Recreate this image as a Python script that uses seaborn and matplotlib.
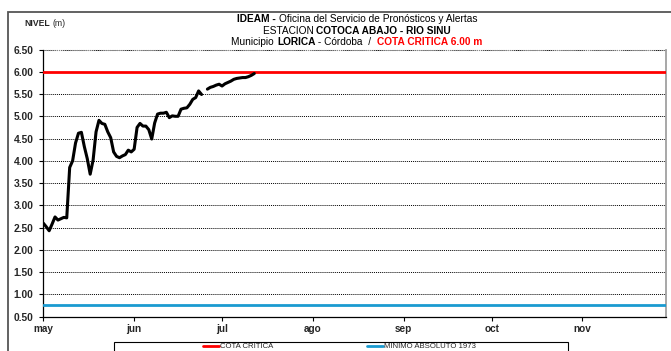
import numpy as np
import pandas as pd
import matplotlib
matplotlib.use("Agg")
import matplotlib.pyplot as plt
from matplotlib.patches import Rectangle
import seaborn as sns

# datos (dias desde el 1 de mayo)
dias = list(range(0, 73))
nivel = [2.60, 2.52, 2.43, 2.58, 2.74, 2.67, 2.70, 2.73, 2.72, 3.85,
         4.00, 4.40, 4.62, 4.64, 4.32, 4.05, 3.70, 4.02, 4.65, 4.91,
         4.84, 4.82, 4.65, 4.52, 4.20, 4.10, 4.07, 4.11, 4.14, 4.24,
         4.20, 4.26, 4.75, 4.84, 4.78, 4.78, 4.70, 4.49, 4.85, 5.05,
         5.07, 5.07, 5.09, 4.97, 5.01, 5.00, 5.00, 5.16, 5.18, 5.19,
         5.27, 5.38, 5.42, 5.57, 5.49, np.nan, 5.61, 5.65, 5.67, 5.70,
         5.72, 5.68, 5.73, 5.76, 5.79, 5.83, 5.85, 5.86, 5.87, 5.87,
         5.89, 5.92, 5.96]
COTA_CRITICA = 6.00
MINIMO_1973 = 0.77
meses = ['may', 'jun', 'jul', 'ago', 'sep', 'oct', 'nov']
meses_inicio = [0, 31, 61, 92, 123, 153, 184]
dia_final = 212.5
niveles_y = np.arange(0.5, 6.51, 0.5)

W, H = 671, 351

sns.set_style("white")
plt.rcParams['font.family'] = ['Liberation Sans', 'DejaVu Sans']

df = pd.DataFrame({'dia': dias, 'nivel': nivel})
df['tramo'] = df['nivel'].isna().cumsum()
df = df.dropna()

fig = plt.figure(figsize=(W / 100, H / 100), dpi=100)
ax = fig.add_axes([43.3 / W, 1 - 316.7 / H, (666 - 43.3) / W, (316.7 - 49.5) / H])

ax.axhline(COTA_CRITICA, color='#ff0000', lw=2.0, zorder=3)
ax.axhline(MINIMO_1973, color='#1a9ad0', lw=2.0, zorder=3)
sns.lineplot(data=df, x='dia', y='nivel', units='tramo', estimator=None,
             color='black', lw=2.2, ax=ax, zorder=4)

ax.set_xlim(0, dia_final)
ax.set_ylim(0.5, 6.5)
ax.set_yticks(niveles_y)
ax.set_yticklabels([f'{v:.2f}' for v in niveles_y], fontsize=7.4, fontweight='bold')
ax.set_xticks(meses_inicio)
ax.set_xticklabels(meses, fontsize=7.2, fontweight='bold')
ax.set_xlabel('')
ax.set_ylabel('')
ax.tick_params(axis='both', direction='out', length=3, width=0.8, color='black',
               left=True, bottom=True, pad=2)
ax.tick_params(axis='y', pad=4)

ax.yaxis.grid(True, color='black', lw=0.7, linestyle=(0, (1, 1)))
ax.xaxis.grid(False)
ax.spines['top'].set_visible(False)
ax.spines['right'].set_color('#a0a0a0')
ax.spines['right'].set_linewidth(1.3)
ax.spines['left'].set_color('black')
ax.spines['bottom'].set_color('black')
ax.spines['left'].set_linewidth(0.9)
ax.spines['bottom'].set_linewidth(0.9)
ax.axhline(6.5, color='#909090', lw=0.8, linestyle=(0, (1, 1)), clip_on=False)

# marco exterior
fig.patches.append(Rectangle((8.3 / W, -0.2), 1.2, 1 - 12 / H + 0.2,
                             transform=fig.transFigure, fill=False,
                             edgecolor='#555555', lw=1.3))


def linea_rica(y_px, cx_px, partes, size):
    renderer = fig.canvas.get_renderer()
    textos = []
    for s, peso, color in partes:
        t = fig.text(0, 1 - y_px / H, s, fontsize=size, fontweight=peso,
                     color=color, va='center', ha='left')
        textos.append(t)
    anchos = [t.get_window_extent(renderer).width for t in textos]
    x = cx_px - sum(anchos) / 2
    for t, w in zip(textos, anchos):
        t.set_x(x / W)
        x += w


linea_rica(19.5, 357, [('IDEAM - ', 'bold', 'black'),
                       ('Oficina del Servicio de Pronósticos y Alertas', 'normal', 'black')], 7.3)
linea_rica(30.7, 357, [('ESTACION ', 'normal', 'black'),
                       ('COTOCA ABAJO - RIO SINU', 'bold', 'black')], 7.3)
linea_rica(41.7, 357, [('Municipio ', 'normal', 'black'),
                       ('LORICA', 'bold', 'black'),
                       (' - Córdoba  /  ', 'normal', 'black'),
                       ('COTA CRITICA 6.00 m', 'bold', '#ff0000')], 7.3)

fig.text(24 / W, 1 - 23 / H, 'NIVEL', fontsize=6.2, fontweight='bold', va='center', ha='left')
fig.text(52.5 / W, 1 - 23 / H, '(m)', fontsize=6.2, va='center', ha='left')

# leyenda
fig.patches.append(Rectangle((114.3 / W, -0.1), (568 - 114.3) / W, 0.1 + 1 - 342 / H,
                             transform=fig.transFigure, fill=False,
                             edgecolor='black', lw=0.8))
h1 = plt.Line2D([], [], color='#ff0000', lw=2.0)
h2 = plt.Line2D([], [], color='#1a9ad0', lw=2.0)
fig.legend([h1, h2], ['COTA CRITICA', 'MINIMO ABSOLUTO 1973'], ncol=2,
           loc='center left', bbox_to_anchor=(203 / W, 1 - 346.5 / H),
           frameon=False, fontsize=5.6, handlelength=2.1, handletextpad=0.1,
           columnspacing=12.0, borderpad=0, borderaxespad=0)

fig.savefig('out.png', dpi=100)
